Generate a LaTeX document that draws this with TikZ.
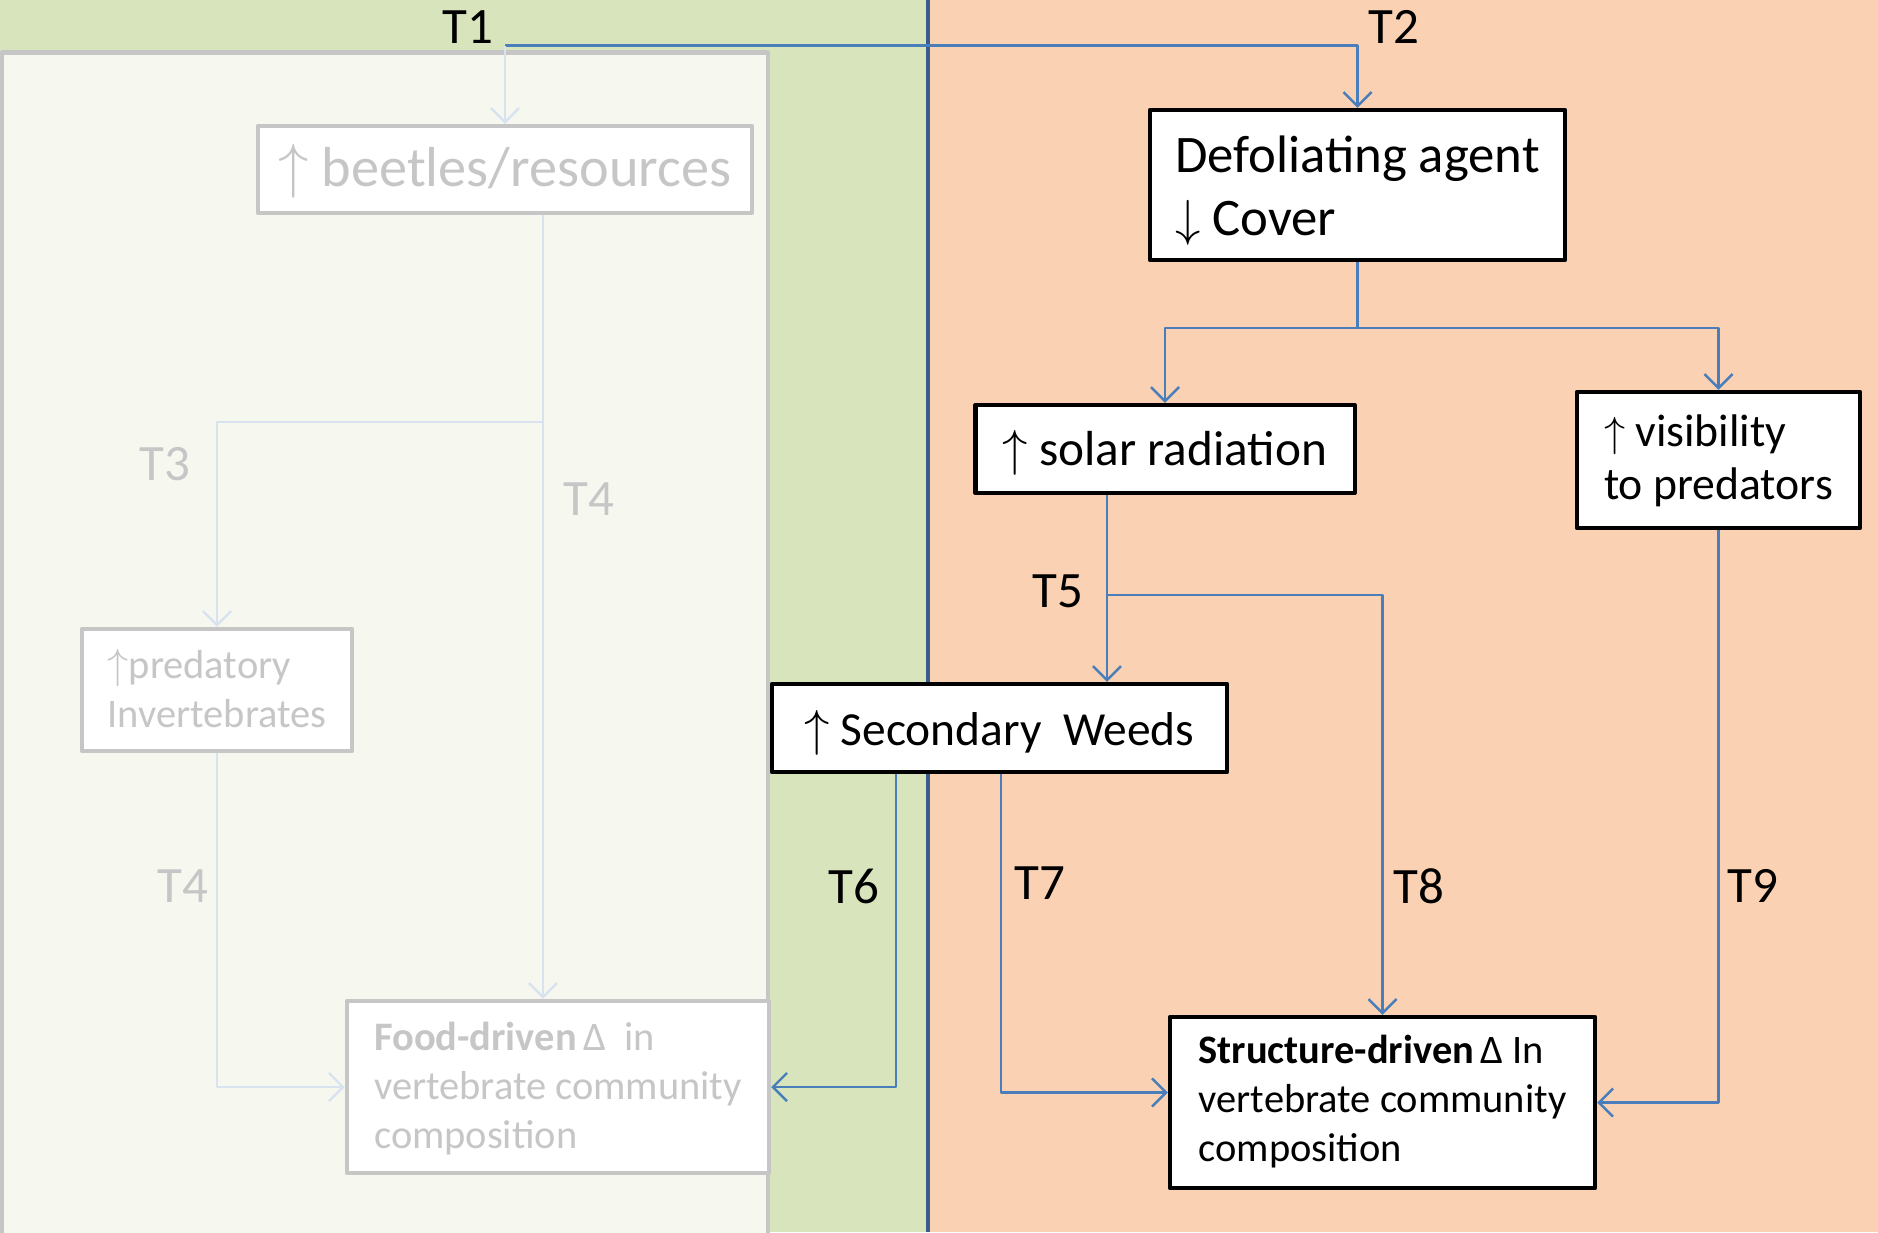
\documentclass[tikz,border=0pt]{standalone}
\usepackage{fontspec}
\setmainfont{Carlito}
\usetikzlibrary{arrows.meta}
\definecolor{leafgreen}{HTML}{D8E4BC}
\definecolor{peach}{HTML}{FAD2B3}
\definecolor{fadefill}{HTML}{F6F8F0}
\definecolor{fadegray}{HTML}{C6C6C6}
\definecolor{fadeline}{HTML}{D9E3F0}
\definecolor{linkblue}{HTML}{4A7EBB}
\definecolor{splitblue}{HTML}{385D8A}
\newcommand{\upar}{$\uparrow$}
\newcommand{\downar}{$\downarrow$}
\newcommand{\fsz}[2]{\fontsize{#1}{#2}\selectfont}
% box text: rows lowered by #1 without changing the box size
\newcommand{\boxlines}[2][0cm]{\raisebox{-#1}[\height][\depth]{\begin{tabular}{@{}l@{}}#2\end{tabular}}}
\tikzset{
  box/.style={draw=black,line width=1.2pt,fill=white,inner sep=0pt},
  fadebox/.style={draw=fadegray,line width=1.2pt,fill=white,inner sep=0pt,text=fadegray},
  flow/.style={draw=linkblue,line width=0.7pt,-{Straight Barb[length=4pt,width=8pt]}},
  fadeflow/.style={flow,draw=fadeline},
  tlab/.style={font=\fsz{14.5}{17}},
  fadelab/.style={tlab,text=fadegray}
}
\begin{document}
\begin{tikzpicture}[x=0.01cm,y=-0.01cm,line join=round]
\useasboundingbox (0,0) rectangle (1878,1232);
% backgrounds
\fill[leafgreen] (0,0) rectangle (928,1232);
\fill[peach] (928,0) rectangle (1878,1232);
\draw[draw=fadegray,line width=1.2pt,fill=fadefill] (2,52.5) rectangle (768,1240);
\draw[splitblue,line width=1.1pt] (928,0) -- (928,1232);
% boxes
\node[fadebox,minimum width=4.94cm,minimum height=0.87cm,font=\fsz{16}{19}] (beetles) at (505,169.5) {\boxlines[0.04cm]{\upar\ beetles/resources}};
\node[fadebox,minimum width=2.7cm,minimum height=1.22cm,font=\fsz{11.5}{14}] (pred) at (217,690) {\boxlines[0.03cm]{\upar predatory\\Invertebrates}};
\node[fadebox,minimum width=4.22cm,minimum height=1.72cm,font=\fsz{11.5}{14}] (food) at (558,1087) {\boxlines[0.025cm]{\textbf{Food-driven}\,Δ\ \ in\\vertebrate community\\composition}};
\node[box,minimum width=4.15cm,minimum height=1.5cm,font=\fsz{15}{18}] (defol) at (1357.5,185) {\boxlines[0.06cm]{Defoliating agent\\\downar\ Cover}};
\node[box,minimum width=3.79cm,minimum height=0.88cm,font=\fsz{14}{17}] (solar) at (1165,449) {\boxlines[0.05cm]{\upar\ solar radiation}};
\node[box,minimum width=2.83cm,minimum height=1.36cm,font=\fsz{13}{15}] (visib) at (1718.5,460) {\boxlines[0.025cm]{\upar\ visibility\\to predators}};
\node[box,minimum width=4.55cm,minimum height=0.88cm,font=\fsz{13.5}{16}] (weeds) at (999.5,728) {\boxlines[0.06cm]{\upar\ Secondary\ \ Weeds}};
\node[box,minimum width=4.25cm,minimum height=1.71cm,font=\fsz{11.5}{14}] (struct) at (1382.5,1102.5) {\boxlines{\textbf{Structure-driven}\,Δ In\\vertebrate community\\composition}};
% path labels
\node[tlab] (t1) at (468,27) {T1};
\node[tlab] (t2) at (1394,27) {T2};
\node[fadelab] (t3) at (165,464) {T3};
\node[fadelab] (t4a) at (589,499) {T4};
\node[fadelab] (t4b) at (183,886) {T4};
\node[tlab] (t5) at (1058,591) {T5};
\node[tlab] (t6) at (854,886) {T6};
\node[tlab] (t7) at (1040,883) {T7};
\node[tlab] (t8) at (1419,886) {T8};
\node[tlab] (t9) at (1753,886) {T9};
% connectors
\path (505,45.5)coordinate(j1) (543,422)coordinate(j3) (1107,595)coordinate(j5) (896,0)coordinate(x6) (1001,0)coordinate(x7);
\draw[flow] (j1) -| (defol.north);
\draw[fadeflow] (j1) -- (beetles.north);
\draw[fadeflow] (beetles.south -| j3) -- (food.north -| j3);
\draw[fadeflow] (j3) -| (pred.north);
\draw[fadeflow] (pred.south) |- (food.west);
\draw[flow] (defol.south) -- ++(0,66) coordinate (j2) -| (solar.north);
\draw[flow] (j2) -| (visib.north);
\draw[flow] (solar.south -| j5) -- (weeds.north -| j5);
\draw[flow] (j5) -| (struct.north);
\draw[flow] (weeds.south -| x6) |- (food.east);
\draw[flow] (weeds.south -| x7) |- ([yshift=0.1cm]struct.west);
\draw[flow] (visib.south) |- (struct.east);
\end{tikzpicture}
\end{document}
